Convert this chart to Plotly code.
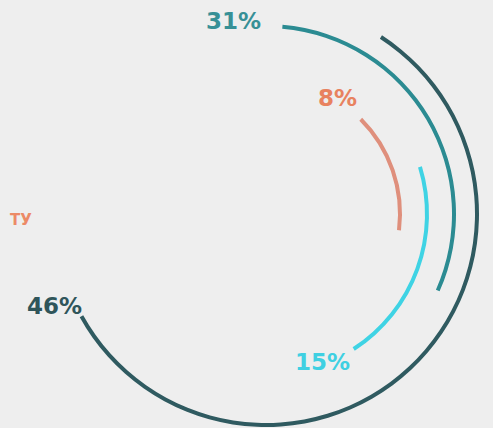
import plotly.graph_objects as go

# ---- data ----
labels = ["46%", "31%", "15%", "8%"]
values = [46, 31, 15, 8]
arc_start_deg = [33, 5, 73, 45]     # clockwise from 12 o'clock
arc_end_deg = [241, 114, 147, 97]
side_label = "ТУ"

# ---- styling ----
colors = ["#2f5a60", "#2b8b92", "#3fd3e4", "#df8f7c"]
label_colors = ["#2f555a", "#379096", "#3fd0e2", "#e8825f"]
ring_radius = [211, 188, 161, 134]
ring_thickness = 4
label_pos = [(54, 306), (233, 21), (322, 362), (337, 98)]   # pixel positions of labels
W, H = 493, 428

fig = go.Figure()
for i in range(len(values)):
    span = arc_end_deg[i] - arc_start_deg[i]
    fig.add_trace(go.Barpolar(
        r=[ring_thickness],
        base=[ring_radius[i] - ring_thickness / 2],
        theta=[arc_start_deg[i] + span / 2],
        width=[span],
        marker=dict(color=colors[i], line=dict(width=0)),
        name=labels[i],
        hovertext=[f"{labels[i]} ({values[i]})"],
        hoverinfo="text",
        showlegend=False,
    ))

for i, lab in enumerate(labels):
    x, y = label_pos[i]
    fig.add_annotation(
        x=x / W, y=1 - y / H, xref="paper", yref="paper",
        text=f"<b>{lab}</b>", showarrow=False,
        font=dict(family="DejaVu Sans", size=23, color=label_colors[i]),
        xanchor="center", yanchor="middle",
    )

fig.add_annotation(
    x=34 / W, y=1 - 220 / H, xref="paper", yref="paper",
    text=f"<b>{side_label}</b>", showarrow=False,
    font=dict(family="DejaVu Sans", size=15, color="#ec8a66"),
    xanchor="right", yanchor="middle",
)

cx = 266
fig.update_layout(
    width=W, height=H,
    margin=dict(l=0, r=0, t=0, b=0),
    paper_bgcolor="#eeeeee",
    plot_bgcolor="#eeeeee",
    polar=dict(
        domain=dict(x=[(cx - H / 2) / W, (cx + H / 2) / W], y=[0, 1]),
        bgcolor="rgba(0,0,0,0)",
        radialaxis=dict(visible=False, range=[0, 214]),
        angularaxis=dict(visible=False, rotation=90, direction="clockwise"),
        barmode="overlay",
    ),
)

fig.write_html("out.html", config={"displayModeBar": False},
               post_script="document.body.style.margin='0';")
